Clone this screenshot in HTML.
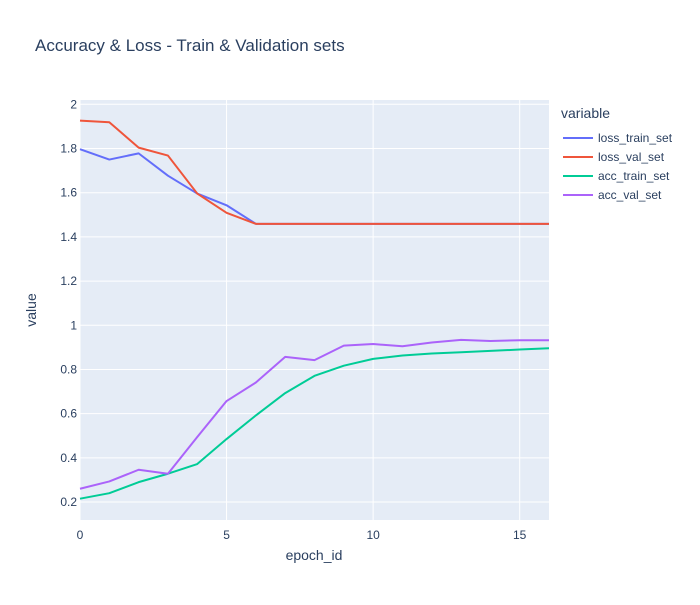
<!DOCTYPE html>
<html><head><meta charset="utf-8"><style>
body{margin:0;background:#fff;font-family:"Liberation Sans",sans-serif;}
svg text{font-family:"Liberation Sans",sans-serif;fill:#2a3f5f;}
</style></head><body>
<svg id="chart" width="700" height="600" xmlns="http://www.w3.org/2000/svg">
<rect width="700" height="600" fill="#fff"/>
<text x="35" y="51" font-size="17">Accuracy &amp; Loss - Train &amp; Validation sets</text>
<rect x="80" y="100" width="469" height="420" fill="#e5ecf6"/>
<g id="grid"></g><g id="series"></g><g id="axes"></g>
<text x="314" y="560" font-size="14" text-anchor="middle">epoch_id</text>
<text transform="translate(36,310) rotate(-90)" font-size="14" text-anchor="middle">value</text>
<g id="legend"></g>
</svg>
<script>
const epochs=[0,1,2,3,4,5,6,7,8,9,10,11,12,13,14,15,16];
const lossTrain=[1.797,1.75,1.778,1.677,1.596,1.543,1.459,1.459,1.459,1.459,1.459,1.459,1.459,1.459,1.459,1.459,1.459];
const lossVal=[1.926,1.919,1.804,1.768,1.596,1.509,1.459,1.459,1.459,1.459,1.459,1.459,1.459,1.459,1.459,1.459,1.459];
const accTrain=[0.215,0.240,0.290,0.328,0.372,0.485,0.592,0.693,0.771,0.817,0.848,0.863,0.872,0.878,0.884,0.890,0.896];
const accVal=[0.260,0.293,0.346,0.328,0.494,0.657,0.741,0.857,0.842,0.908,0.915,0.905,0.922,0.934,0.929,0.932,0.932];
const seriesNames=["loss_train_set","loss_val_set","acc_train_set","acc_val_set"];
const xTicks=[0,5,10,15];
const yTicks=[0.2,0.4,0.6,0.8,1,1.2,1.4,1.6,1.8,2];
const NS="http://www.w3.org/2000/svg";
const X0=80,X1=549,Y0=100,Y1=520;
const xMin=0,xMax=16,yMin=0.1186,yMax=2.0195;
const xs=v=>X0+(v-xMin)/(xMax-xMin)*(X1-X0);
const ys=v=>Y1-(v-yMin)/(yMax-yMin)*(Y1-Y0);
function mk(tag,attrs,parent){const e=document.createElementNS(NS,tag);for(const k in attrs)e.setAttribute(k,attrs[k]);parent.appendChild(e);return e;}
const grid=document.getElementById('grid'),axes=document.getElementById('axes');
xTicks.forEach(t=>{
 const l=mk('line',{x1:xs(t),x2:xs(t),y1:Y0,y2:Y1,stroke:'#fff','stroke-width':1},grid);
 
 
 const tx=mk('text',{x:xs(t),y:Y1+19,'font-size':12,'text-anchor':'middle'},axes);tx.textContent=t;
 
 
});
yTicks.forEach(t=>{
 const l=mk('line',{x1:X0,x2:X1,y1:ys(t),y2:ys(t),stroke:'#fff','stroke-width':1},grid);
 
 
 const tx=mk('text',{x:X0-3,y:ys(t)+4,'font-size':12,'text-anchor':'end'},axes);tx.textContent=t;
 
 
});
const data=[lossTrain,lossVal,accTrain,accVal];
const colors=["#636efa","#ef553b","#00cc96","#ab63fa"];
const sg=document.getElementById('series');
data.forEach((arr,i)=>{
 const p=mk('polyline',{points:arr.map((v,j)=>xs(epochs[j])+','+ys(v)).join(' '),fill:'none',stroke:colors[i],'stroke-width':2,'stroke-linejoin':'round'},sg);
 
 
});
const lg=document.getElementById('legend');
const lt=mk('text',{x:561,y:118,'font-size':14},lg);lt.textContent='variable';


seriesNames.forEach((n,i)=>{
 const y=138+i*19;
 const g=mk('g',{},lg);
 
 
 mk('line',{x1:563,x2:593,y1:y,y2:y,stroke:colors[i],'stroke-width':2},g);
 const t=mk('text',{x:598,y:y+4,'font-size':12},g);t.textContent=n;
});
</script>
</body></html>
